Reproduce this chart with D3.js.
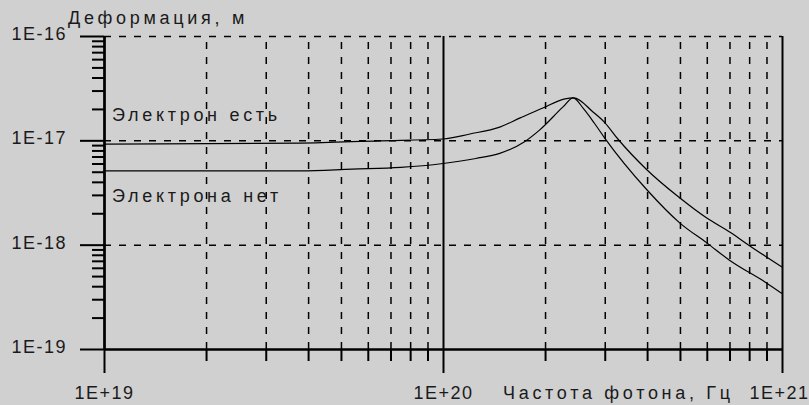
<!DOCTYPE html>
<html>
<head>
<meta charset="utf-8">
<script src="https://cdn.jsdelivr.net/npm/d3@7"></script>
<style>
	body { margin: 0; background: #d0d0d0; }
	svg { display: block; font-family: "Liberation Sans", Arial, sans-serif; }
	.lbl { font-size: 18px; fill: #1a1a1a; letter-spacing: 1.5px; }
	.cap { font-size: 18px; fill: #1a1a1a; letter-spacing: 3.7px; }
	.grid line { stroke: #000; stroke-width: 1.5; stroke-dasharray: 7,8; }
	.solid line, .solid path { stroke: #000; stroke-width: 2; }
	.curve { fill: none; stroke: #000; stroke-width: 1.2; }
</style>
</head>
<body>
<div id="chart"></div>
<script>
// frequency range and deformation range, decades only
var xDecades = [1e19, 1e20, 1e21];
var yDecades = [1e-16, 1e-17, 1e-18, 1e-19];
var xTickLabels = ["1E+19", "1E+20", "1E+21"];
var yTickLabels = ["1E-16", "1E-17", "1E-18", "1E-19"];

var xTitle = "Частота фотона, Гц";
var yTitle = "Деформация, м";
var seriesNames = ["Электрон есть", "Электрона нет"];

// "Электрон есть"
var freqWith = [1e19, 3.8e19, 6.5e19, 1e20, 1.2e20, 1.47e20, 1.69e20, 1.97e20, 2.29e20, 2.43e20,
	2.77e20, 3.0e20, 3.28e20, 4.0e20, 5.0e20, 6.0e20, 7.07e20, 7.94e20, 1e21];
var defWith = [9.2e-18, 9.4e-18, 9.9e-18, 1.03e-17, 1.15e-17, 1.34e-17, 1.64e-17, 2.04e-17, 2.5e-17, 2.55e-17,
	1.87e-17, 1.48e-17, 1.03e-17, 5.2e-18, 2.8e-18, 1.8e-18, 1.3e-18, 1.0e-18, 6.1e-19];

// "Электрона нет"
var freqWithout = [1e19, 3.8e19, 5.4e19, 7.5e19, 1e20, 1.25e20, 1.47e20, 1.74e20, 1.93e20, 2.26e20, 2.42e20,
	2.6e20, 2.8e20, 3.0e20, 4.0e20, 5.0e20, 6.0e20, 7.0e20, 9.0e20, 1e21];
var defWithout = [5.1e-18, 5.1e-18, 5.3e-18, 5.5e-18, 6.0e-18, 6.7e-18, 7.5e-18, 9.7e-18, 1.26e-17, 2.09e-17, 2.55e-17,
	2.0e-17, 1.45e-17, 1.05e-17, 3.34e-18, 1.61e-18, 1.04e-18, 7.1e-19, 4.3e-19, 3.4e-19];

function drawChart(){
	var W = 809, H = 405;
	var pLeft = 104, pRight = 782, pTop = 36, pBottom = 349;

	var svg = d3.select("#chart").append("svg")
		.attr("width", W)
		.attr("height", H);

	svg.append("rect")
		.attr("width", W)
		.attr("height", H)
		.attr("fill", "#d0d0d0");

	var x = d3.scaleLog().domain([xDecades[0], xDecades[2]]).range([pLeft, pRight]);
	var y = d3.scaleLog().domain([yDecades[3], yDecades[0]]).range([pBottom, pTop]);

	var minorX = x.ticks().filter(function(d){ return xDecades.indexOf(d) < 0; });
	var minorY = y.ticks().filter(function(d){ return yDecades.indexOf(d) < 0; });

	// labels of the curves, drawn under the grid
	svg.append("text").attr("class", "cap").attr("x", 112).attr("y", 121).text(seriesNames[0]);
	svg.append("text").attr("class", "cap").attr("x", 112).attr("y", 202).text(seriesNames[1]);

	// dashed grid
	svg.append("g").attr("class", "grid")
		.attr("transform", "translate(0," + pBottom + ")")
		.call(d3.axisBottom(x).tickValues(minorX).tickSize(-(pBottom - pTop)).tickFormat(""))
		.call(function(g){ g.select(".domain").remove(); });

	svg.append("g").attr("class", "grid")
		.attr("transform", "translate(" + pLeft + ",0)")
		.call(d3.axisLeft(y).tickValues(yDecades.slice(0, 3)).tickSize(-(pRight - pLeft)).tickFormat(""))
		.call(function(g){ g.select(".domain").remove(); });

	// minor ticks
	svg.append("g").attr("class", "solid")
		.attr("transform", "translate(0," + pBottom + ")")
		.call(d3.axisBottom(x).tickValues(minorX).tickSize(12).tickSizeOuter(0).tickFormat(""));

	svg.append("g").attr("class", "solid")
		.attr("transform", "translate(" + pLeft + ",0)")
		.call(d3.axisLeft(y).tickValues(minorY).tickSize(12).tickSizeOuter(0).tickFormat(""));

	// full height lines at the decades
	svg.append("g").attr("class", "solid")
		.attr("transform", "translate(0," + pBottom + ")")
		.call(d3.axisBottom(x).tickValues(xDecades).tickSize(-(pBottom - pTop)).tickFormat(""))
		.call(function(g){ g.select(".domain").remove(); });

	// major ticks with labels
	var xAxis = svg.append("g").attr("class", "solid")
		.attr("transform", "translate(0," + pBottom + ")")
		.call(d3.axisBottom(x).tickValues(xDecades).tickSize(24).tickSizeOuter(0).tickPadding(13)
			.tickFormat(function(d, i){ return xTickLabels[i]; }));
	xAxis.selectAll("text").attr("class", "lbl").attr("fill", null)
		.attr("dx", function(d, i){ return i == 2 ? -3 : 0; });

	var yAxis = svg.append("g").attr("class", "solid")
		.attr("transform", "translate(" + pLeft + ",0)")
		.call(d3.axisLeft(y).tickValues(yDecades).tickSize(24).tickSizeOuter(0).tickPadding(13)
			.tickFormat(function(d, i){ return yTickLabels[i]; }));
	yAxis.selectAll("text").attr("class", "lbl").attr("fill", null).attr("dy", "0.2em");

	svg.selectAll(".solid").attr("font-size", null).attr("font-family", null);

	// titles
	svg.append("text").attr("class", "cap").attr("x", 68).attr("y", 24).text(yTitle);
	svg.append("text").attr("class", "cap").attr("x", 503).attr("y", 399).text(xTitle);

	// curves
	var line = d3.line()
		.x(function(d){ return x(d[0]); })
		.y(function(d){ return y(d[1]); })
		.curve(d3.curveMonotoneX);

	svg.append("path").attr("class", "curve")
		.attr("d", line(d3.zip(freqWith, defWith)));
	svg.append("path").attr("class", "curve")
		.attr("d", line(d3.zip(freqWithout, defWithout)));
}

drawChart();
</script>
</body>
</html>
